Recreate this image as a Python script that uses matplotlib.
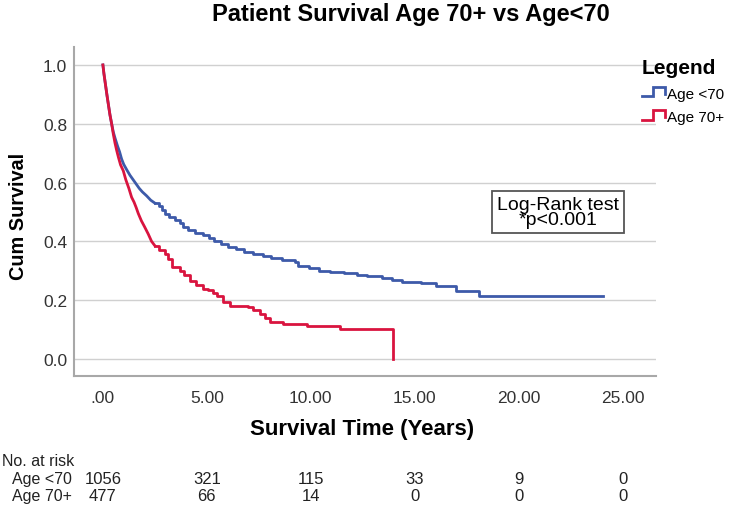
import numpy as np
import matplotlib
matplotlib.use("Agg")
import matplotlib.pyplot as plt
import matplotlib.transforms as mtransforms
from matplotlib.lines import Line2D
from matplotlib.legend_handler import HandlerBase

plt.rcParams['font.family'] = ['Liberation Sans', 'DejaVu Sans']

# --- Daten ---
t_under70 = [0, 0.05, 0.1, 0.15, 0.2, 0.26, 0.34, 0.42, 0.5, 0.58, 0.7, 0.8, 0.9, 1.0,
             1.15, 1.3, 1.45, 1.6, 1.75, 1.9, 2.1, 2.3, 2.5, 2.7, 2.85, 3.0, 3.2, 3.45,
             3.7, 3.85, 4.1, 4.45, 4.8, 5.1, 5.35, 5.7, 6.0, 6.4, 6.8, 7.2, 7.7, 8.1,
             8.6, 9.25, 9.4, 9.9, 10.4, 10.9, 11.6, 12.2, 12.7, 13.4, 13.9, 14.4, 15.3,
             16.0, 17.0, 18.1, 24.05]
s_under70 = [1.0, 0.97, 0.945, 0.92, 0.895, 0.867, 0.83, 0.80, 0.772, 0.752, 0.725, 0.705,
             0.68, 0.662, 0.643, 0.625, 0.61, 0.595, 0.58, 0.568, 0.555, 0.54, 0.53, 0.52,
             0.505, 0.493, 0.482, 0.472, 0.463, 0.45, 0.44, 0.43, 0.42, 0.41, 0.40, 0.39,
             0.382, 0.375, 0.365, 0.358, 0.35, 0.342, 0.336, 0.329, 0.317, 0.308, 0.30,
             0.295, 0.291, 0.286, 0.281, 0.276, 0.27, 0.263, 0.258, 0.247, 0.232, 0.215,
             0.215]

t_70plus = [0, 0.05, 0.1, 0.15, 0.2, 0.26, 0.34, 0.42, 0.5, 0.58, 0.66, 0.75, 0.85, 0.98,
            1.1, 1.25, 1.38, 1.5, 1.6, 1.7, 1.85, 2.0, 2.18, 2.34, 2.5, 2.7, 2.98, 3.15,
            3.3, 3.7, 3.9, 4.18, 4.5, 4.82, 5.05, 5.3, 5.5, 5.78, 6.1, 6.99, 7.2, 7.55,
            7.8, 8.03, 8.67, 9.8, 11.4, 13.96]
s_70plus = [1.0, 0.97, 0.945, 0.92, 0.895, 0.867, 0.83, 0.80, 0.765, 0.735, 0.71, 0.685,
            0.66, 0.64, 0.61, 0.58, 0.55, 0.533, 0.515, 0.495, 0.47, 0.45, 0.425, 0.40,
            0.385, 0.37, 0.357, 0.34, 0.312, 0.30, 0.285, 0.266, 0.25, 0.238, 0.235,
            0.226, 0.215, 0.193, 0.179, 0.176, 0.165, 0.153, 0.14, 0.127, 0.119, 0.113,
            0.102, 0.0]

risk_times = [0, 5, 10, 15, 20, 25]
risk_under70 = [1056, 321, 115, 33, 9, 0]
risk_70plus = [477, 66, 14, 0, 0, 0]

x_ticks = [0, 5, 10, 15, 20, 25]
x_ticklabels = ['.00', '5.00', '10.00', '15.00', '20.00', '25.00']
y_ticks = [0.0, 0.2, 0.4, 0.6, 0.8, 1.0]

col_blue = '#3d5aa9'
col_red = '#d9143f'

# bis hierhin sind die Stufen so dicht, dass die Kurve glatt aussieht
t_smooth = 2.5


class StepHandler(HandlerBase):
    # Legendensymbol als kleine Treppenstufe
    def create_artists(self, legend, orig_handle, xdescent, ydescent, width, height,
                       fontsize, trans):
        xs = np.array([0, 0.5, 0.5, 1.0, 1.0]) * width - xdescent
        ys = np.array([0.15, 0.15, 0.95, 0.95, 0.35]) * height - ydescent
        ln = Line2D(xs, ys, color=orig_handle.get_color(), lw=2.0,
                    solid_joinstyle='miter', transform=trans)
        return [ln]


def km_curve(ax, t, s, color):
    t = np.asarray(t)
    s = np.asarray(s)
    k = np.searchsorted(t, t_smooth, side='right')
    ax.plot(t[:k], s[:k], color=color, lw=2.0, solid_joinstyle='round')
    line, = ax.step(t[k - 1:], s[k - 1:], where='post', color=color, lw=2.0)
    return line


fig = plt.figure(figsize=(7.29, 5.06), dpi=100)
ax = fig.add_axes([74 / 729, 1 - 377 / 506, (656 - 74) / 729, (377 - 48) / 506])

l1 = km_curve(ax, t_under70, s_under70, col_blue)
l2 = km_curve(ax, t_70plus, s_70plus, col_red)

ax.set_xlim(-1.39, 26.6)
ax.set_ylim(-0.058, 1.061)
ax.set_xticks(x_ticks)
ax.set_xticklabels(x_ticklabels)
ax.set_yticks(y_ticks)
ax.set_yticklabels([f'{v:.1f}' for v in y_ticks])
ax.tick_params(axis='both', length=0, labelsize=12.5, labelcolor='#333333')
ax.tick_params(axis='x', pad=10)
ax.tick_params(axis='y', pad=5)

ax.grid(axis='y', color='#d0d0d0', lw=1.0)
ax.set_axisbelow(True)
for s in ['top', 'right']:
    ax.spines[s].set_visible(False)
for s in ['left', 'bottom']:
    ax.spines[s].set_color('#a8a8a8')
    ax.spines[s].set_linewidth(1.5)

fig.text(411 / 729, 1 - 15 / 506, 'Patient Survival Age 70+ vs Age<70', ha='center',
         va='center', fontsize=17, fontweight='bold')
fig.text(19 / 729, 1 - 216 / 506, 'Cum Survival', rotation=90, ha='center', va='center',
         fontsize=14.3, fontweight='bold')
fig.text(362 / 729, 1 - 430 / 506, 'Survival Time (Years)', ha='center', va='center',
         fontsize=16, fontweight='bold')

ax.text(21.9, 0.50, 'Log-Rank test\n*p<0.001', ha='center', va='center', fontsize=14,
        linespacing=0.85,
        bbox=dict(boxstyle='square,pad=0.25', facecolor='white', edgecolor='#555555', lw=1.3))

leg = fig.legend([l1, l2], ['Age <70', 'Age 70+'], handler_map={Line2D: StepHandler()},
                 loc='upper left', bbox_to_anchor=(631 / 729, 1 - 48 / 506),
                 frameon=False, fontsize=11, title='Legend', handlelength=1.5,
                 handleheight=0.8, handletextpad=0.15, labelspacing=0.6, borderpad=0.2)
leg.get_title().set_fontweight('bold')
leg.get_title().set_fontsize(15)
leg._legend_box.align = 'left'
leg._legend_box.sep = 7

# --- Risikotabelle ---
trans = mtransforms.blended_transform_factory(ax.transData, fig.transFigure)
fig.text(2 / 729, 1 - 462 / 506, 'No. at risk', ha='left', va='center', fontsize=11.5,
         color='#222222')
fig.text(12 / 729, 1 - 480 / 506, 'Age <70', ha='left', va='center', fontsize=11.5,
         color='#222222')
fig.text(12 / 729, 1 - 497 / 506, 'Age 70+', ha='left', va='center', fontsize=11.5,
         color='#222222')
for t, a, b in zip(risk_times, risk_under70, risk_70plus):
    ax.text(t, 1 - 480 / 506, str(a), transform=trans, ha='center', va='center',
            fontsize=12, color='#222222')
    ax.text(t, 1 - 497 / 506, str(b), transform=trans, ha='center', va='center',
            fontsize=12, color='#222222')

plt.savefig('out.png', dpi=100)
